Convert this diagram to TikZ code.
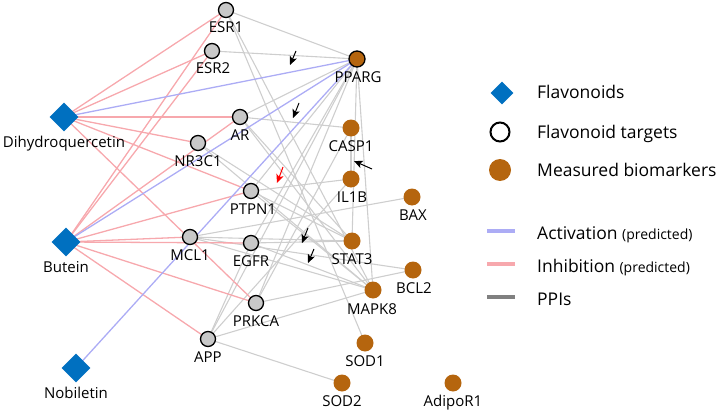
\documentclass[tikz,border=0pt]{standalone}
\usepackage{fontspec}
\setmainfont{Open Sans}
\usetikzlibrary{shapes.geometric,arrows.meta}
\pgfdeclarelayer{bg}
\pgfsetlayers{bg,main}
\definecolor{flav}{RGB}{0,112,192}
\definecolor{bio}{RGB}{181,101,14}
\definecolor{tgt}{RGB}{200,200,200}
\definecolor{inh}{RGB}{247,168,173}
\definecolor{act}{RGB}{172,172,245}
\definecolor{ppi}{RGB}{206,206,206}
\definecolor{ppileg}{RGB}{128,128,128}
\tikzset{
  flavnode/.style={diamond, fill=flav, minimum width=29pt, minimum height=29pt, inner sep=0pt},
  tgtnode/.style={circle, draw=black, line width=1.3pt, fill=tgt, minimum size=15pt, inner sep=0pt},
  bionode/.style={circle, fill=bio, minimum size=17pt, inner sep=0pt},
  bigtgt/.style={circle, draw=black, line width=1.3pt, fill=bio, minimum size=16pt, inner sep=0pt},
  lbl/.style={font=\fontsize{15}{15}\selectfont, anchor=base, inner sep=0pt},
  leglbl/.style={font=\fontsize{17.5}{17.5}\selectfont, anchor=base west, inner sep=0pt},
  inhedge/.style={draw=inh, line width=1.3pt},
  actedge/.style={draw=act, line width=1.3pt},
  ppiedge/.style={draw=ppi, line width=1.1pt},
  annot/.style={draw=black, line width=1pt, -{Stealth[length=8.5pt,width=7.5pt,inset=2pt]}},
  legline/.style={line width=4.5pt}
}
\begin{document}
\begin{tikzpicture}[x=1pt,y=-1pt]
\useasboundingbox (0,0) rectangle (726,412);
% flavonoids
\node[flavnode] (DHQ) at (64,117) {};
\node[flavnode] (BUT) at (66,242) {};
\node[flavnode] (NOB) at (76,368) {};
\node[lbl] (DHQl) at (64,147) {Dihydroquercetin};
\node[lbl] (BUTl) at (66,272) {Butein};
\node[lbl] (NOBl) at (76,398) {Nobiletin};
% targets
\node[tgtnode] (ESR1) at (226,10) {};
\node[tgtnode] (ESR2) at (212,51) {};
\node[tgtnode] (AR) at (240,117) {};
\node[tgtnode] (NR3C1) at (198,143) {};
\node[tgtnode] (PTPN1) at (251,191) {};
\node[tgtnode] (MCL1) at (190,237) {};
\node[tgtnode] (EGFR) at (251,243) {};
\node[tgtnode] (PRKCA) at (256,303) {};
\node[tgtnode] (APP) at (208,339) {};
\node[bigtgt] (PPARG) at (357,59) {};
\node[lbl] (ESR1l) at (226,33) {ESR1};
\node[lbl] (ESR2l) at (213,74) {ESR2};
\node[lbl] (ARl) at (240,140) {AR};
\node[lbl] (NR3C1l) at (198,166) {NR3C1};
\node[lbl] (PTPN1l) at (253,214) {PTPN1};
\node[lbl] (MCL1l) at (190,260) {MCL1};
\node[lbl] (EGFRl) at (251,266) {EGFR};
\node[lbl] (PRKCAl) at (256,326) {PRKCA};
\node[lbl] (APPl) at (208,362) {APP};
\node[lbl] (PPARGl) at (358,82) {PPARG};
% biomarkers
\node[bionode] (CASP1) at (351,128) {};
\node[bionode] (IL1B) at (351,179) {};
\node[bionode] (BAX) at (412,197) {};
\node[bionode] (STAT3) at (352,241) {};
\node[bionode] (BCL2) at (413,270) {};
\node[bionode] (MAPK8) at (373,290) {};
\node[bionode] (SOD1) at (365,343) {};
\node[bionode] (SOD2) at (342,383) {};
\node[bionode] (ADIPOR1) at (453,383) {};
\node[lbl] (CASP1l) at (351,151) {CASP1};
\node[lbl] (IL1Bl) at (352,202) {IL1B};
\node[lbl] (BAXl) at (413,220) {BAX};
\node[lbl] (STAT3l) at (352,264) {STAT3};
\node[lbl] (BCL2l) at (414,293) {BCL2};
\node[lbl] (MAPK8l) at (372,314) {MAPK8};
\node[lbl] (SOD1l) at (365,366) {SOD1};
\node[lbl] (SOD2l) at (342,406) {SOD2};
\node[lbl] (ADIPOR1l) at (453,406) {AdipoR1};
% edges
\begin{pgfonlayer}{bg}
% PPIs
\foreach \a/\b in {ESR1/PPARG, ESR1/SOD1, ESR1/MAPK8, ESR2/PPARG,
  AR/PPARG, AR/CASP1, AR/STAT3, AR/MAPK8, NR3C1/STAT3, NR3C1/MAPK8,
  PTPN1/IL1B, PTPN1/STAT3, PTPN1/MAPK8, PTPN1/PPARG,
  MCL1/BAX, MCL1/STAT3, MCL1/BCL2, MCL1/MAPK8,
  EGFR/STAT3, EGFR/MAPK8, EGFR/PPARG, PRKCA/BCL2, PRKCA/PPARG, PRKCA/CASP1,
  APP/MAPK8, APP/SOD2, APP/PPARG, APP/EGFR, APP/IL1B,
  PPARG/MAPK8, PPARG/STAT3, CASP1/IL1B}
  {\draw[ppiedge] (\a.center) -- (\b.center);}
% inhibition
\foreach \a/\b in {DHQ/ESR1, DHQ/ESR2, DHQ/AR, DHQ/NR3C1, DHQ/PTPN1, DHQ/PRKCA,
  BUT/ESR1, BUT/ESR2, BUT/AR, BUT/PTPN1, BUT/MCL1, BUT/EGFR, BUT/PRKCA, BUT/APP}
  {\draw[inhedge] (\a.center) -- (\b.center);}
% activation
\foreach \a in {DHQ, BUT, NOB}
  {\draw[actedge] (\a.center) -- (PPARG.center);}
\end{pgfonlayer}
% annotation arrows
\coordinate (t1) at (296,51); \coordinate (h1) at (290,65);
\coordinate (t2) at (299,103); \coordinate (h2) at (293,118);
\coordinate (t3) at (283,167); \coordinate (h3) at (277,183);
\coordinate (t4) at (372,169); \coordinate (h4) at (354,161);
\coordinate (t5) at (308,228); \coordinate (h5) at (302,243);
\coordinate (t6) at (314,249); \coordinate (h6) at (308,263);
\draw[annot] (t1) -- (h1);
\draw[annot] (t2) -- (h2);
\draw[annot, draw=red, fill=red] (t3) -- (h3);
\draw[annot] (t4) -- (h4);
\draw[annot] (t5) -- (h5);
\draw[annot] (t6) -- (h6);
% legend
\node[flavnode, minimum width=23pt, minimum height=23pt] (Lflav) at (502,93) {};
\node[circle, draw=black, line width=2pt, fill=white, minimum size=19pt, inner sep=0pt] (Ltgt) at (500,132) {};
\node[circle, fill=bio, minimum size=22pt, inner sep=0pt] (Lbio) at (500,170) {};
\node[leglbl] (LflavT) at (537,99) {Flavonoids};
\node[leglbl] (LtgtT) at (537,138) {Flavonoid targets};
\node[leglbl] (LbioT) at (537,176.5) {Measured biomarkers};
\coordinate (La1) at (487,231); \coordinate (La2) at (515,231);
\coordinate (Li1) at (487,264); \coordinate (Li2) at (515,264);
\coordinate (Lp1) at (487,297); \coordinate (Lp2) at (515,297);
\draw[legline, draw=act] (La1) -- (La2);
\draw[legline, draw=inh] (Li1) -- (Li2);
\draw[legline, draw=ppileg] (Lp1) -- (Lp2);
\node[leglbl] (LactT) at (537,239) {Activation {\fontsize{14}{14}\selectfont (predicted)}};
\node[leglbl] (LinhT) at (537,272) {Inhibition {\fontsize{14}{14}\selectfont (predicted)}};
\node[leglbl] (LppiT) at (537,305) {PPIs};
\end{tikzpicture}
\end{document}
